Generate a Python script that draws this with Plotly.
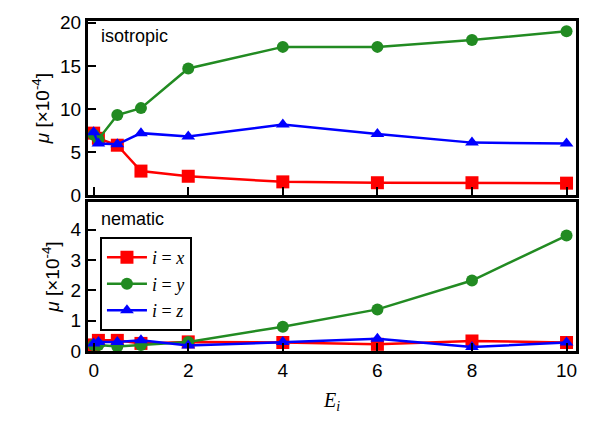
import plotly.graph_objects as go
from plotly.subplots import make_subplots

E = [0, 0.1, 0.5, 1, 2, 4, 6, 8, 10]

iso_x = [7.2, 6.6, 5.8, 2.8, 2.2, 1.55, 1.45, 1.45, 1.4]
iso_y = [7.0, 6.5, 9.3, 10.1, 14.7, 17.2, 17.2, 18.0, 19.0]
iso_z = [7.3, 6.0, 5.9, 7.2, 6.8, 8.2, 7.1, 6.1, 6.0]

nem_x = [0.2, 0.35, 0.35, 0.25, 0.3, 0.28, 0.22, 0.33, 0.28]
nem_y = [0.2, 0.2, 0.15, 0.2, 0.3, 0.8, 1.37, 2.32, 3.8]
nem_z = [0.25, 0.3, 0.3, 0.35, 0.18, 0.3, 0.4, 0.13, 0.28]

labels = ["<i>i</i> = <i>x</i>", "<i>i</i> = <i>y</i>", "<i>i</i> = <i>z</i>"]
colors = ["#ff0000", "#228b22", "#0000ff"]
symbols = ["square", "circle", "triangle-up"]
sizes = [13, 12, 12]

fig = make_subplots(rows=2, cols=1, shared_xaxes=False, vertical_spacing=0.02,
                    row_heights=[0.53, 0.47])

for row, series in [(1, [iso_x, iso_y, iso_z]), (2, [nem_x, nem_y, nem_z])]:
    for k, ys in enumerate(series):
        fig.add_trace(go.Scatter(
            x=E, y=ys, mode="lines+markers", name=labels[k],
            line=dict(color=colors[k], width=2.5),
            marker=dict(symbol=symbols[k], size=sizes[k], color=colors[k]),
            showlegend=(row == 2), cliponaxis=False,
        ), row=row, col=1)

sans = "Liberation Sans, Arial"
axis_common = dict(showline=True, linecolor="black", linewidth=3, mirror=True,
                   ticks="inside", ticklen=8, tickwidth=2, tickcolor="black",
                   showgrid=False, zeroline=False,
                   tickfont=dict(family=sans, size=19, color="black"))

fig.update_xaxes(range=[-0.12, 10.2], tickvals=[0, 2, 4, 6, 8, 10], **axis_common)
fig.update_xaxes(showticklabels=False, row=1, col=1)
fig.update_xaxes(title=dict(text="<i>E<sub>i</sub></i>", font=dict(family="Liberation Serif", size=20, color="black"), standoff=14), row=2, col=1)

ytitle = "<i>μ</i> [×10<sup>-4</sup>]"
fig.update_yaxes(range=[0, 20.2], tickvals=[0, 5, 10, 15, 20], row=1, col=1, **axis_common)
fig.update_yaxes(range=[0, 4.9], tickvals=[0, 1, 2, 3, 4], row=2, col=1, **axis_common)
fig.update_yaxes(title=dict(text=ytitle, font=dict(family=sans, size=19, color="black"), standoff=6))

fig.update_layout(
    width=591, height=421,
    margin=dict(l=88, r=13, t=14, b=68),
    plot_bgcolor="white", paper_bgcolor="white",
    yaxis=dict(domain=[0.472, 1.0]),
    yaxis2=dict(domain=[0.0, 0.451]),
    legend=dict(x=0.0245, y=0.345, xanchor="left", yanchor="top",
                bordercolor="black", borderwidth=2, bgcolor="white",
                font=dict(family="Liberation Serif", size=18, color="black"),
                tracegroupgap=0, itemwidth=40),
    annotations=[
        dict(text="isotropic", x=0.022, y=0.955, xref="paper", yref="paper",
             xanchor="left", yanchor="middle", showarrow=False,
             font=dict(family=sans, size=18, color="black")),
        dict(text="nematic", x=0.022, y=0.40, xref="paper", yref="paper",
             xanchor="left", yanchor="middle", showarrow=False,
             font=dict(family=sans, size=18, color="black")),
    ],
)

fig.write_html("out.html")
